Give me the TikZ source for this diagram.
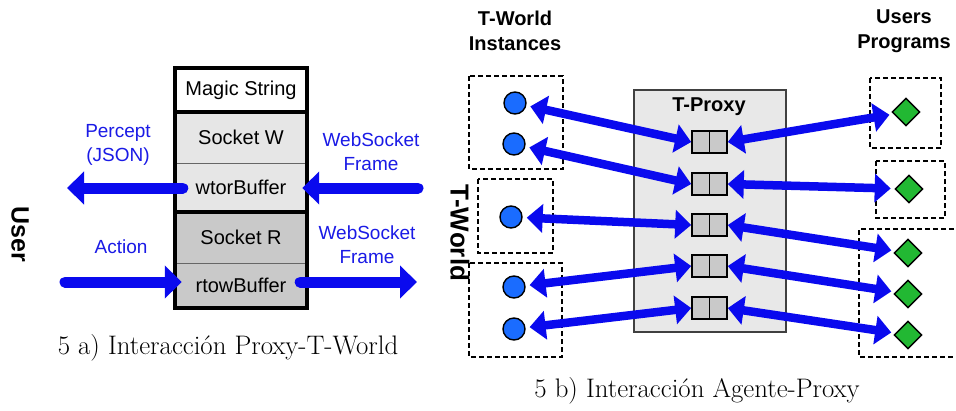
\documentclass[tikz,border=0pt]{standalone}
\usepackage{fontspec}
\newfontfamily\arial{Liberation Sans}
\usetikzlibrary{arrows.meta,shapes.geometric}

\definecolor{arrowblue}{HTML}{0A0AEE}
\definecolor{labelblue}{HTML}{1A1AE6}
\definecolor{ballblue}{HTML}{1A6CFF}
\definecolor{leafgreen}{HTML}{22B833}
\definecolor{paleA}{HTML}{E6E6E6}
\definecolor{paleB}{HTML}{C9C9C9}
\definecolor{proxyfill}{HTML}{E8E8E8}

\tikzset{
  sect/.style={rectangle, minimum width=132pt, inner sep=0pt,
    font=\arial\fontsize{20}{24}\selectfont},
  bluelbl/.style={text=labelblue, align=center, inner sep=0pt,
    font=\arial\fontsize{19}{24}\selectfont},
  headlbl/.style={align=center, inner sep=0pt,
    font=\arial\bfseries\fontsize{20}{25}\selectfont},
  sidelbl/.style={rotate=-90, inner sep=0pt,
    font=\arial\bfseries\fontsize{25}{30}\selectfont},
  caption/.style={inner sep=0pt, font=\fontsize{26.8}{30}\selectfont},
  fatarrow/.style={draw=arrowblue, line width=11pt, line cap=round,
    -{Triangle[length=17pt,width=32pt]}},
  biarrow/.style={draw=arrowblue, line width=8.5pt,
    {Triangle[length=16pt,width=28pt]}-{Triangle[length=16pt,width=28pt]}},
  grouping/.style={draw, line width=1.2pt, dash pattern=on 5pt off 3pt},
  ball/.style={circle, draw, line width=1.4pt, fill=ballblue,
    minimum size=22pt, inner sep=0pt},
  leaf/.style={diamond, draw, line width=1.4pt, fill=leafgreen,
    minimum width=28pt, minimum height=28pt, inner sep=0pt},
  queue/.style={rectangle, draw, line width=1.6pt, fill=paleB,
    minimum width=35pt, minimum height=22pt, inner sep=0pt,
    path picture={\draw[line width=1.6pt]
      (path picture bounding box.north) -- (path picture bounding box.south);}},
}

\begin{document}
\begin{tikzpicture}[x=1pt, y=-1pt]
\clip (0,0) rectangle (956,410);
\fill[white] (0,0) rectangle (956,410);

% ---------- proxy / T-World stack ----------
\node[sect, fill=white,  minimum height=44pt] (magic) at (241,90)    {Magic String};
\node[sect, fill=paleA,  minimum height=51pt] (sockw) at (241,137.5) {Socket W};
\node[sect, fill=paleA,  minimum height=49pt] (wtor)  at (241,187.5) {wtorBuffer};
\node[sect, fill=paleB,  minimum height=51pt] (sockr) at (241,237.5) {Socket R};
\node[sect, fill=paleB,  minimum height=45pt] (rtow)  at (241,285.5) {rtowBuffer};
\draw[line width=0.8pt, draw=black!60] (sockw.south west) -- (sockw.south east);
\draw[line width=0.8pt, draw=black!60] (sockr.south west) -- (sockr.south east);
\draw[line width=4pt] (magic.south west) -- (magic.south east);
\draw[line width=4pt] (wtor.south west) -- (wtor.south east);
\draw[line width=4pt] (magic.north west) rectangle (rtow.south east);

\coordinate (perceptend) at (67,188);
\coordinate (frameinA)   at (418,188);
\coordinate (actionbeg)  at (65,282);
\coordinate (frameoutB)  at (417,282);

\draw[fatarrow] ([xshift=8pt]wtor.west |- perceptend) -- (perceptend);
\draw[fatarrow] (frameinA) -- ([xshift=-5pt]wtor.east |- frameinA);
\draw[fatarrow] (actionbeg) -- ([xshift=7pt]rtow.west |- actionbeg);
\draw[fatarrow] ([xshift=-7pt]rtow.east |- frameoutB) -- (frameoutB);

\node[bluelbl] (percept) at (118,145) {Percept\\(JSON)};
\node[bluelbl] (wsA)     at (371,152) {WebSocket\\Frame};
\node[bluelbl] (action)  at (121,247) {Action};
\node[bluelbl] (wsB)     at (367,245) {WebSocket\\Frame};
\node[sidelbl] (user)    at (20,234)  {User};
\node[caption] (capA)    at (228,348) {5 a) Interacción Proxy-T-World};

% ---------- agents / proxy ----------
\node[headlbl] (insthead) at (515,31) {T-World\\Instances};
\node[headlbl] (proghead) at (904,31) {Users\\Programs};
\node[sidelbl, font=\arial\bfseries\fontsize{26}{30}\selectfont] (tworld) at (460,233) {T-World};

\draw[grouping] (469,76) rectangle (563,169);
\draw[grouping] (478,179) rectangle (553,253);
\draw[grouping] (469,263) rectangle (562,357);
\draw[grouping] (870,78) rectangle (941,148);
\draw[grouping] (876,161) rectangle (945,218);
\draw[grouping] (962,229) -- (859,229) -- (859,357) -- (962,357);

\node[rectangle, draw=black!75, line width=1.5pt, fill=proxyfill,
      minimum width=152pt, minimum height=242pt] (proxy) at (710,211) {};
\node[headlbl] (proxylbl) at (709,107) {T-Proxy};

\node[ball] (c1) at (515,103) {};
\node[ball] (c2) at (514,144) {};
\node[ball] (c3) at (511,217) {};
\node[ball] (c4) at (514,287) {};
\node[ball] (c5) at (514,329) {};

\node[leaf] (d1) at (906,112) {};
\node[leaf] (d2) at (909,189) {};
\node[leaf] (d3) at (908,253) {};
\node[leaf] (d4) at (908,294) {};
\node[leaf] (d5) at (908,335) {};

\node[queue] (q1) at (709.5,142) {};
\node[queue] (q2) at (709.5,184) {};
\node[queue] (q3) at (709.5,225) {};
\node[queue] (q4) at (709.5,266) {};
\node[queue] (q5) at (709.5,308) {};

\foreach \i in {1,...,5}{
  \draw[biarrow, shorten <=4pt] (c\i) -- (q\i.west);
  \draw[biarrow, shorten >=4pt] (q\i.east) -- (d\i);
}

\node[caption] (capB) at (697,391) {5 b) Interacción Agente-Proxy};
\end{tikzpicture}
\end{document}
